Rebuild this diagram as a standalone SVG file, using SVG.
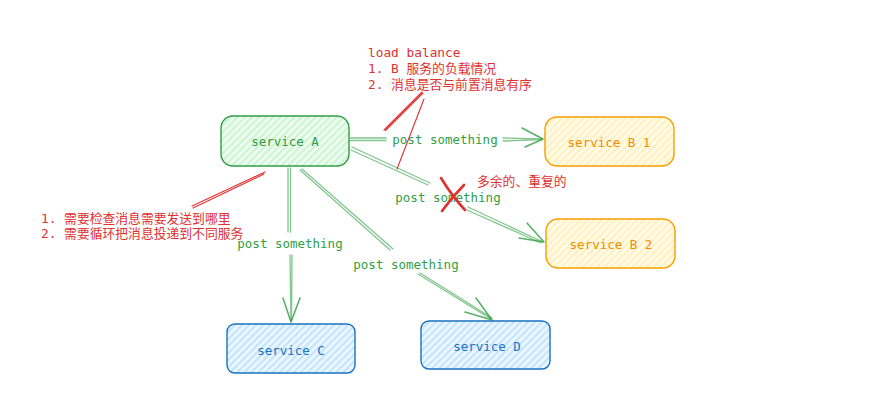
<svg xmlns="http://www.w3.org/2000/svg" width="876" height="406" viewBox="0 0 876 406">
<defs>
<pattern id="hg" width="5" height="5" patternUnits="userSpaceOnUse" patternTransform="rotate(45)"><rect width="5" height="5" fill="#eefbf0"/><line x1="1" y1="0" x2="1" y2="5" stroke="#b2f2bb" stroke-width="1.2"/></pattern>
<pattern id="ho" width="5" height="5" patternUnits="userSpaceOnUse" patternTransform="rotate(45)"><rect width="5" height="5" fill="#fffaea"/><line x1="1" y1="0" x2="1" y2="5" stroke="#ffec99" stroke-width="1.2"/></pattern>
<pattern id="hb" width="5" height="5" patternUnits="userSpaceOnUse" patternTransform="rotate(45)"><rect width="5" height="5" fill="#ecf6ff"/><line x1="1" y1="0" x2="1" y2="5" stroke="#a5d8ff" stroke-width="1.2"/></pattern>
</defs>
<style>
.t{font-family:"DejaVu Sans Mono","Liberation Mono","Noto Sans CJK SC",monospace;font-size:12.5px;}
.c{text-anchor:middle;dominant-baseline:central;}
.g{fill:#2f9e44}.o{fill:#f08c00}.b{fill:#1971c2}.r{fill:#e03131;font-size:12.8px}
.ng{fill:url(#hg);stroke:#2f9e44;stroke-width:1.4}
.no{fill:url(#ho);stroke:#f59f00;stroke-width:1.4}
.nb{fill:url(#hb);stroke:#1971c2;stroke-width:1.4}
.cl{fill:none;stroke:#2f9e44;stroke-opacity:0.6;stroke-width:1.3;stroke-linecap:round;stroke-linejoin:round}
.ah{fill:none;stroke:#2f9e44;stroke-opacity:0.8;stroke-width:1.6;stroke-linecap:round;stroke-linejoin:round}
.rl{fill:none;stroke:#e03131;stroke-width:1.1;stroke-linecap:round}
.rx{fill:none;stroke:#e03131;stroke-width:2.6;stroke-linecap:round}
</style>
<g id="connectors">
<path class="cl" d="M350,138 L386,138 M350,140.5 L386,140.5 M503,138 L542,139 M503,141 L542,139.5"/>
<path class="ah" d="M522,128 L543,139 L525,147"/>
<path class="cl" d="M352,147 L430,183 M351,150 L428,185 M468,207 L543,242 M467,210 L541,243"/>
<path class="ah" d="M527,223 L544,242 L519,238"/>
<path class="cl" d="M288,168 L288,232 M290.5,168 L290.5,232 M290,255 L291,321 M292,255 L291.5,321"/>
<path class="ah" d="M283,298 L291,322 L300,298"/>
<path class="cl" d="M300,170 L390,250 M302,169 L393,249 M418,274 L491,319 M420,273 L492,318"/>
<path class="ah" d="M476,298 L492,320 L465,312"/>
<text class="t c g" x="445" y="139">post something</text>
<text class="t c g" x="448" y="197">post something</text>
<text class="t c g" x="290" y="243">post something</text>
<text class="t c g" x="406" y="264">post something</text>
</g>
<g id="serviceA"><rect class="ng" x="221" y="116" width="128" height="50" rx="12"/><text class="t c g" x="285" y="141">service A</text></g>
<g id="serviceB1"><rect class="no" x="545" y="117" width="129" height="49" rx="12"/><text class="t c o" x="609" y="142">service B 1</text></g>
<g id="serviceB2"><rect class="no" x="546" y="219" width="129" height="49" rx="12"/><text class="t c o" x="611" y="244">service B 2</text></g>
<g id="serviceC"><rect class="nb" x="227" y="324" width="128" height="49" rx="8"/><text class="t c b" x="291" y="350">service C</text></g>
<g id="serviceD"><rect class="nb" x="421" y="321" width="129" height="48" rx="8"/><text class="t c b" x="487" y="346">service D</text></g>
<g id="annotations">
<text class="t r" x="368" y="57">load balance</text>
<text class="t r" x="368" y="73">1. B 服务的负载情况</text>
<text class="t r" x="368" y="89">2. 消息是否与前置消息有序</text>
<path class="rl" d="M422,92 L384,130 M423,93 L385.5,130.5 M424,99 L397,169"/>
<text class="t r" x="41" y="223">1. 需要检查消息需要发送到哪里</text>
<text class="t r" x="41" y="238">2. 需要循环把消息投递到不同服务</text>
<path class="rl" d="M265,172 L192,206 M264,174 L193,208"/>
<path class="rx" d="M441,178 Q452,196 465,210 M464,185 Q452,197 442,211"/>
<text class="t r" x="477" y="186">多余的、重复的</text>
</g>
</svg>
